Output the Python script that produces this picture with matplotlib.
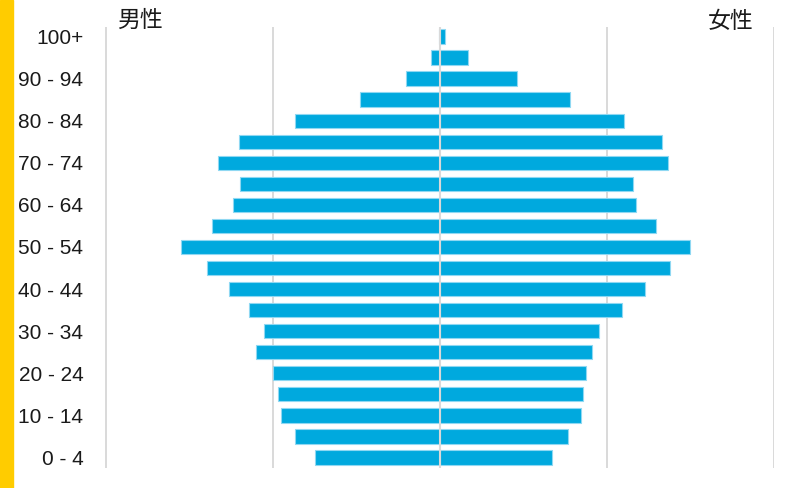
import matplotlib.pyplot as plt
from matplotlib.patches import Rectangle

# age groups, youngest first
ages = ["0 - 4", "5 - 9", "10 - 14", "15 - 19", "20 - 24", "25 - 29", "30 - 34",
        "35 - 39", "40 - 44", "45 - 49", "50 - 54", "55 - 59", "60 - 64",
        "65 - 69", "70 - 74", "75 - 79", "80 - 84", "85 - 89", "90 - 94",
        "95 - 99", "100+"]

# population in millions
male = [2.24, 2.60, 2.85, 2.90, 3.00, 3.30, 3.16, 3.42, 3.78, 4.17, 4.65,
        4.08, 3.72, 3.58, 3.98, 3.60, 2.60, 1.43, 0.61, 0.15, 0.01]
female = [2.01, 2.31, 2.53, 2.57, 2.63, 2.73, 2.85, 3.28, 3.68, 4.14, 4.50,
          3.89, 3.52, 3.47, 4.10, 3.99, 3.31, 2.34, 1.38, 0.51, 0.10]

grid_at = [-6, -3, 3, 6]

blue = "#00a9de"
edge = "#8fd8f2"
grey = "#d9d9d9"

fig = plt.figure(figsize=(8.03, 4.88), dpi=100)
ax = fig.add_axes([105.5 / 803, 1 - 468 / 488, (774 - 105.5) / 803, (468 - 27) / 488])

y = list(range(len(ages)))
ax.barh(y, [-v for v in male], height=0.68, color=blue, edgecolor=edge, linewidth=0.8, zorder=2)
ax.barh(y, female, height=0.68, color=blue, edgecolor=edge, linewidth=0.8, zorder=2)

for g in grid_at:
    ax.axvline(g, color=grey, lw=1.4, zorder=1)
ax.axvline(0, color=grey, lw=1.5, zorder=3)

ax.set_xlim(-6, 6)
ax.set_ylim(-0.5, 20.45)
ax.set_xticks([])
ax.set_yticks(y[::2])
ax.set_yticklabels(ages[::2], fontsize=15, family="Liberation Sans", color="#1a1a1a")
ax.tick_params(axis="y", length=0, pad=16)
for s in ax.spines.values():
    s.set_visible(False)

fig.text(140 / 803, 1 - 20 / 488, "男性", fontsize=16.5, family="Noto Sans CJK JP",
         ha="center", va="center", color="#1a1a1a")
fig.text(731 / 803, 1 - 22 / 488, "女性", fontsize=16.5, family="Noto Sans CJK JP",
         ha="center", va="center", color="#1a1a1a")

# yellow strip down the left edge
fig.patches.append(Rectangle((0, 0), 13 / 803, 1, transform=fig.transFigure,
                             color="#ffcc00", zorder=0))

fig.savefig("out.png", dpi=100)
